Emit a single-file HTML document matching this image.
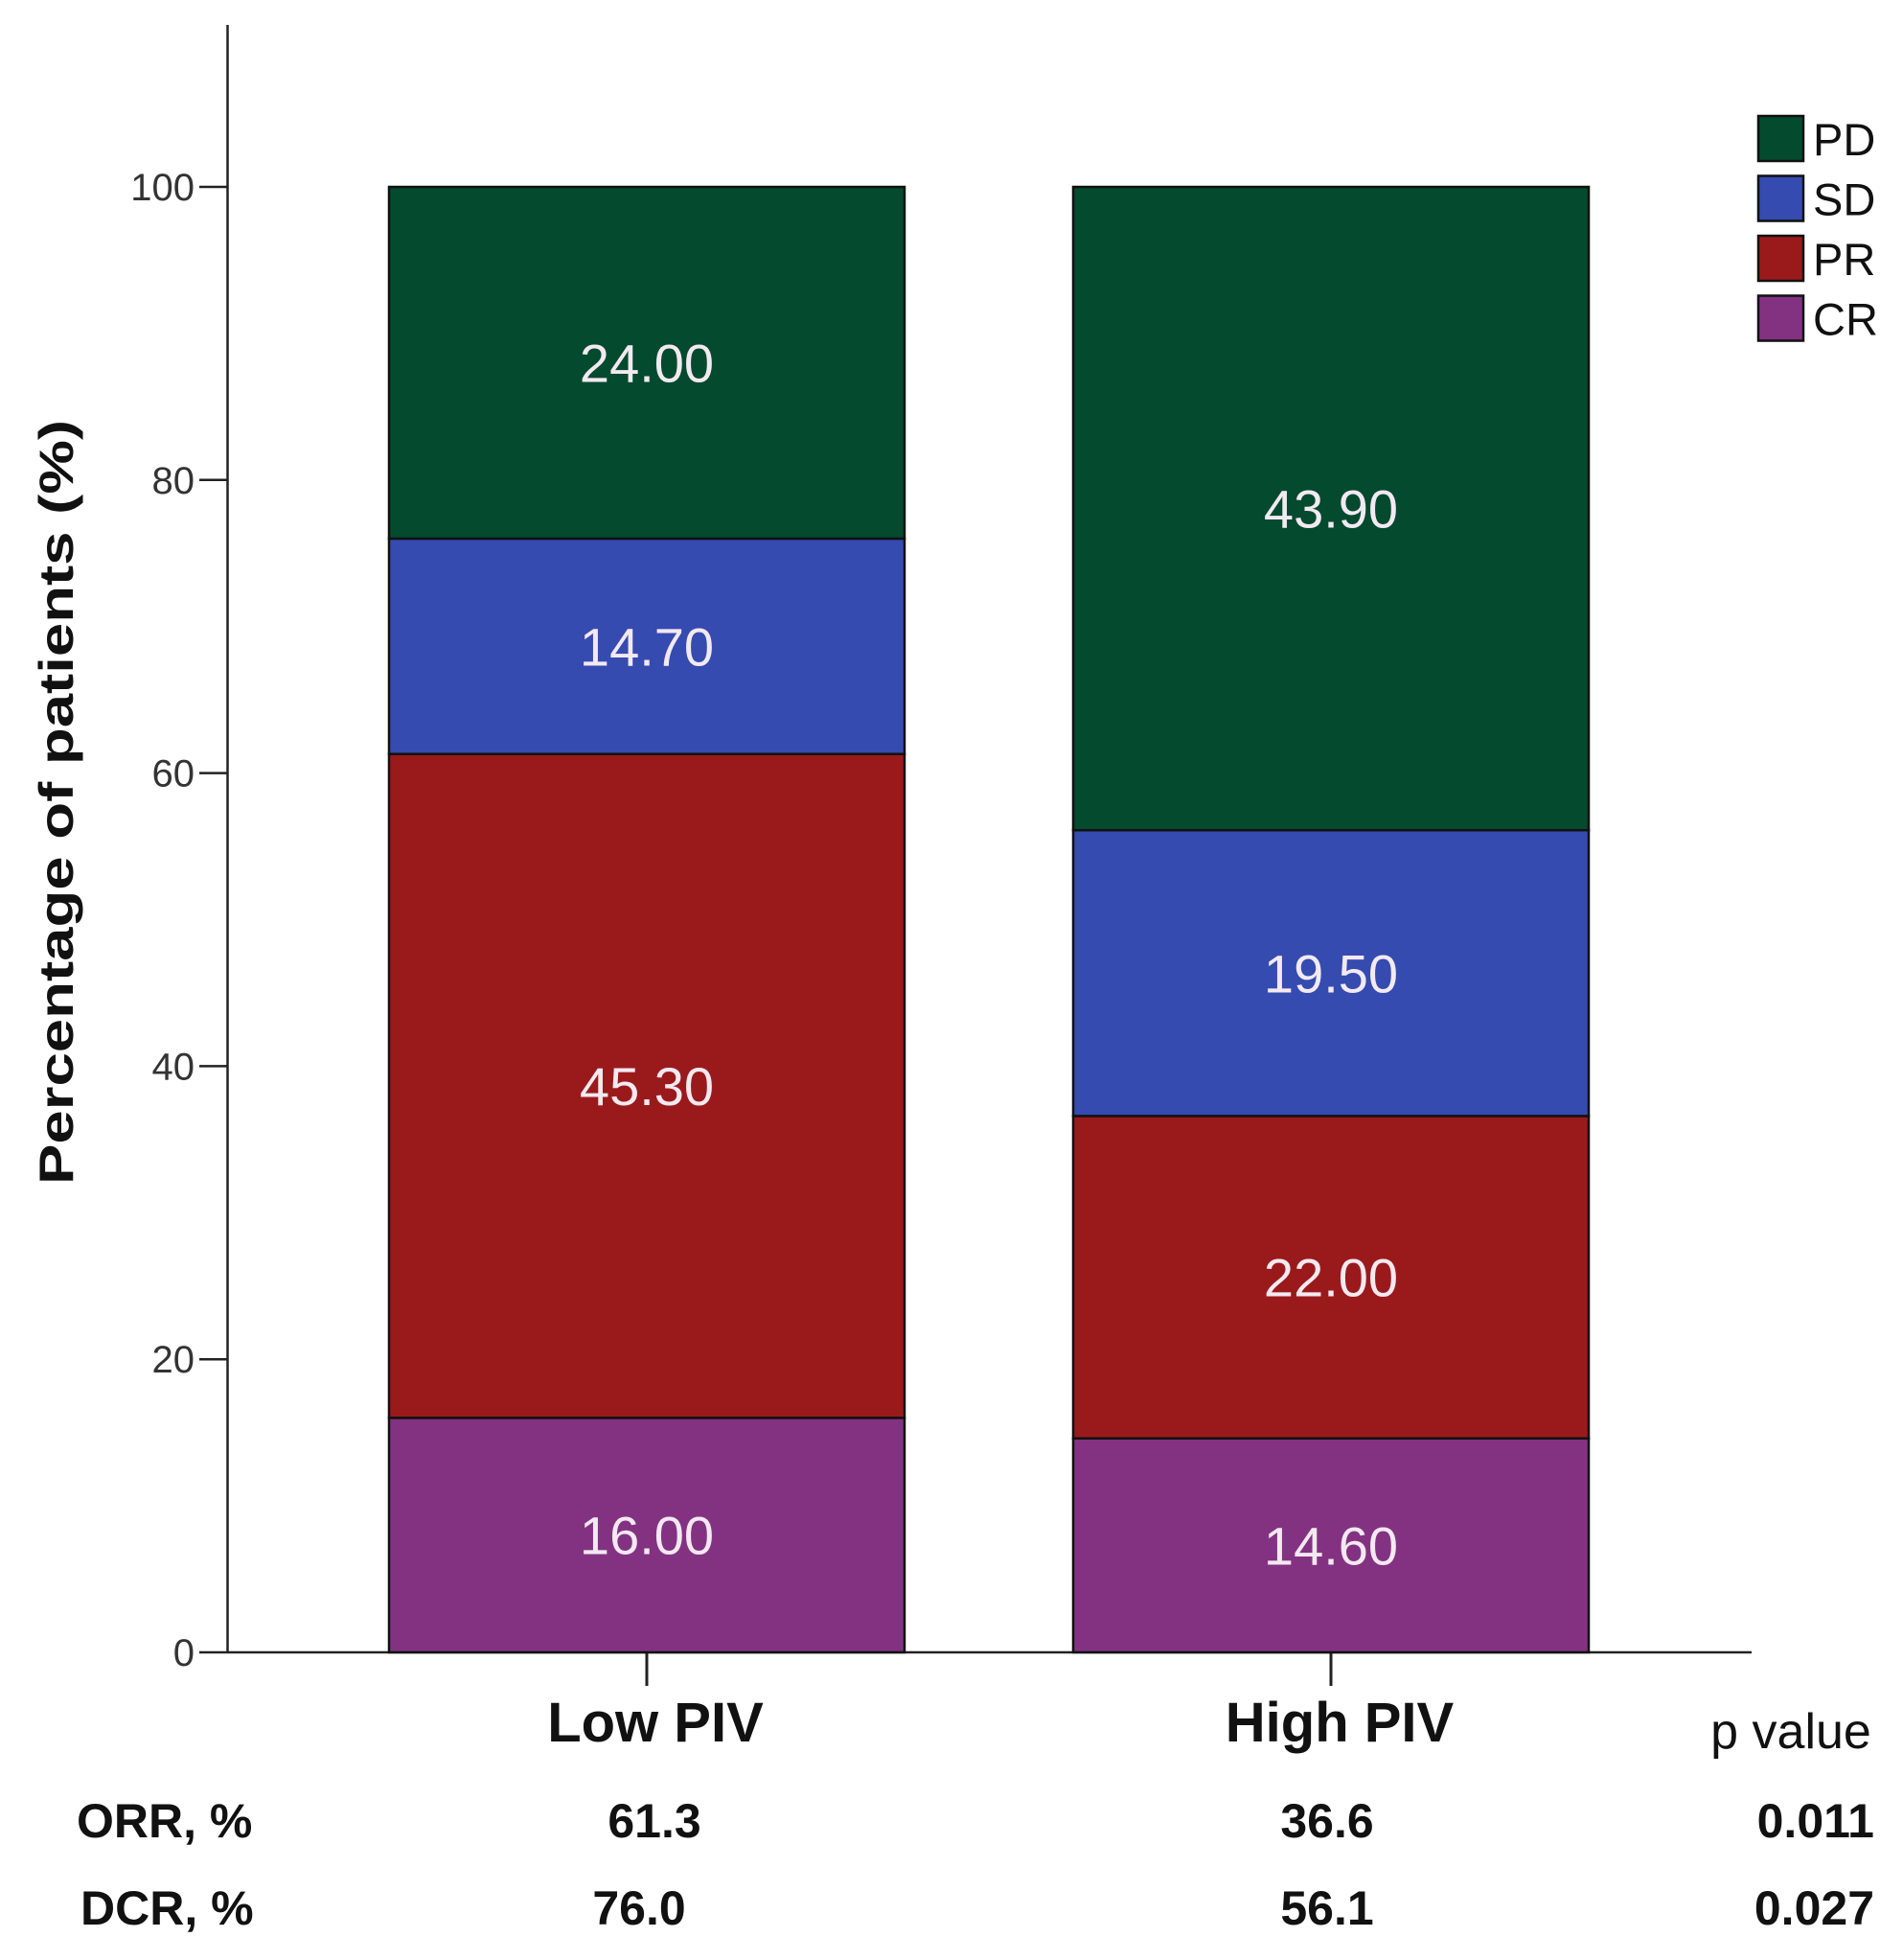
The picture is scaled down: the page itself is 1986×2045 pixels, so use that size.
<!DOCTYPE html>
<html><head><meta charset="utf-8"><style>
html,body{margin:0;padding:0;background:#fff;}
svg{display:block;font-family:"Liberation Sans",sans-serif;}
</style></head><body>
<svg id="chart" width="1986" height="2045" viewBox="0 0 1986 2045" xmlns="http://www.w3.org/2000/svg">
<g id="axes"></g>
<g id="bars"></g>
<text transform="translate(76,837) rotate(-90)" text-anchor="middle" font-weight="bold" font-size="50" textLength="798" lengthAdjust="spacingAndGlyphs" fill="#111">Percentage of patients (%)</text>
<g id="legend"></g>
<g id="table" font-weight="bold" font-size="50" fill="#111">
<text x="1869" y="1824" text-anchor="middle" font-weight="normal" font-size="52">p value</text>
<text x="80" y="1917">ORR, %</text>
<text x="84" y="2008">DCR, %</text>
<text x="683" y="1917" text-anchor="middle">61.3</text>
<text x="1385" y="1917" text-anchor="middle">36.6</text>
<text x="1956" y="1917" text-anchor="end">0.011</text>
<text x="667" y="2008" text-anchor="middle">76.0</text>
<text x="1385" y="2008" text-anchor="middle">56.1</text>
<text x="1956" y="2008" text-anchor="end">0.027</text>
</g>
</svg>
<script>
const categories = ["Low PIV", "High PIV"];
const seriesNames = ["CR", "PR", "SD", "PD"];
const crValues = [16.0, 14.6];
const prValues = [45.3, 22.0];
const sdValues = [14.7, 19.5];
const pdValues = [24.0, 43.9];
const yTicks = [0, 20, 40, 60, 80, 100];

const NS = "http://www.w3.org/2000/svg";
const colors = {CR:"#833282", PR:"#9a1a1c", SD:"#354bb0", PD:"#034a2f"};
const series = {CR:crValues, PR:prValues, SD:sdValues, PD:pdValues};
const y0 = 1724, y100 = 195;
function yScale(v){ return y0 - (y0 - y100) * v / 100; }
const barLefts = [406, 1120], barW = 538;
function xCenter(i){ return barLefts[i] + barW / 2; }
function mk(tag, attrs, parent){ const e = document.createElementNS(NS, tag); for (const k in attrs) e.setAttribute(k, attrs[k]); parent.appendChild(e); return e; }

const axes = document.getElementById("axes");
let yl = mk("line", {x1:237.5, y1:26, x2:237.5, y2:y0, stroke:"#222", "stroke-width":2.5}, axes);


let xl = mk("line", {x1:237.5, y1:y0, x2:1828, y2:y0, stroke:"#222", "stroke-width":2.5}, axes);


yTicks.forEach(t => {
  const y = yScale(t);
  const tk = mk("line", {x1:208, y1:y, x2:237.5, y2:y, stroke:"#222", "stroke-width":2.5}, axes);
  
  
  const lb = mk("text", {x:203, y:y+14, "text-anchor":"end", "font-size":40, fill:"#333"}, axes);
  
  
  lb.textContent = t;
});
categories.forEach((c, i) => {
  const x = Math.round(xCenter(i));
  const tk = mk("line", {x1:x, y1:y0, x2:x, y2:1759, stroke:"#222", "stroke-width":3}, axes);
  
  
  const lb = mk("text", {x:x+9, y:1817, "text-anchor":"middle", "font-size":58, "font-weight":"bold", fill:"#111"}, axes);
  
  
  lb.textContent = c;
});

const bars = document.getElementById("bars");
categories.forEach((c, i) => {
  let cum = 0;
  seriesNames.forEach(s => {
    const v = series[s][i];
    const yTop = yScale(cum + v), yBot = yScale(cum);
    const r = mk("rect", {x:barLefts[i], y:yTop, width:barW, height:yBot - yTop, fill:colors[s], stroke:"#111", "stroke-width":2.5}, bars);
    
    
    const t = mk("text", {x:xCenter(i), y:(yTop + yBot) / 2 + 20, "text-anchor":"middle", "font-size":56, fill:"#f3e9f1"}, bars);
    
    
    t.textContent = v.toFixed(2);
    cum += v;
  });
});

const legend = document.getElementById("legend");
["PD","SD","PR","CR"].forEach((s, k) => {
  const y = 121 + k * 62.5;
  const r = mk("rect", {x:1835, y:y, width:47, height:47, fill:colors[s], stroke:"#111", "stroke-width":2.5}, legend);
  
  
  const t = mk("text", {x:1892, y:y+41, "font-size":47, fill:"#111"}, legend);
  
  
  t.textContent = s;
});
</script>
</body></html>
